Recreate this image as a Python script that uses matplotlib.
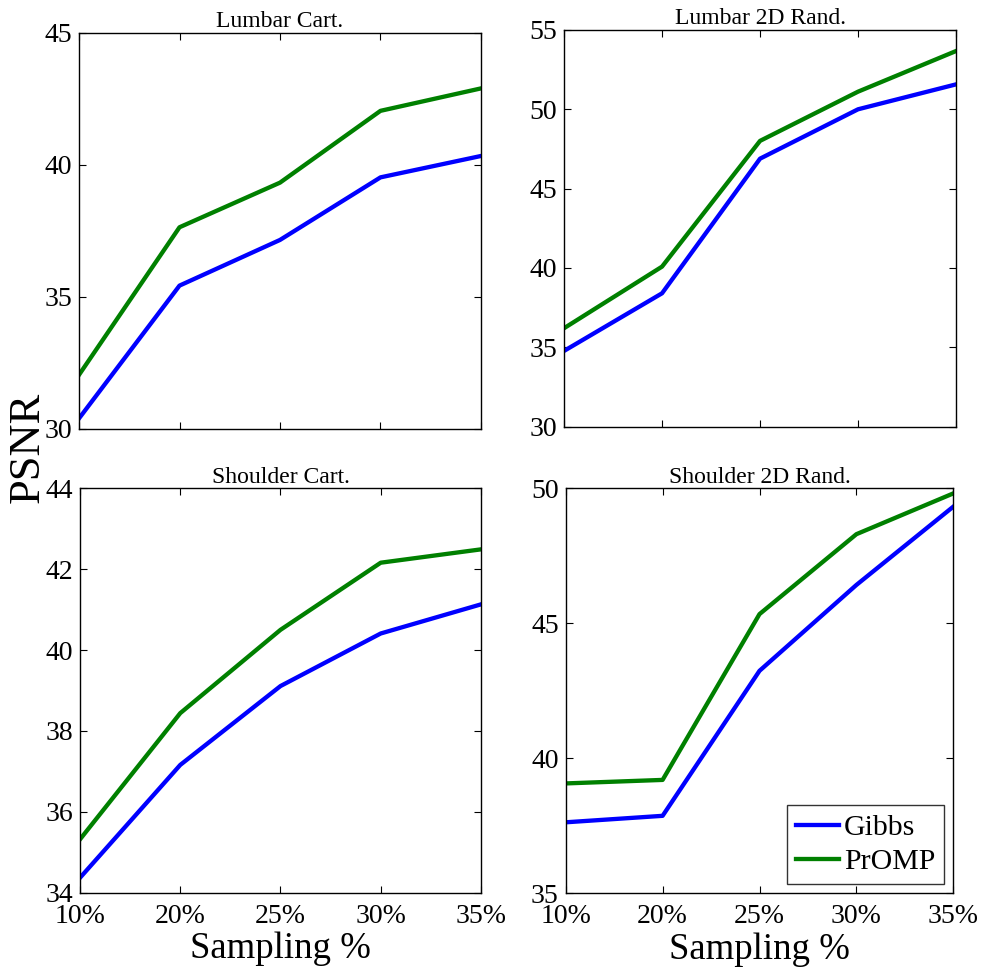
import matplotlib
matplotlib.use("Agg")
import matplotlib.pyplot as plt

plt.rcParams['font.family'] = ['Liberation Serif', 'DejaVu Serif']

x_labels = ['10%', '20%', '25%', '30%', '35%']
titles = ['Lumbar Cart.', 'Lumbar 2D Rand.', 'Shoulder Cart.', 'Shoulder 2D Rand.']

lumbar_cart_gibbs = [30.4, 35.43, 37.16, 39.53, 40.34]
lumbar_cart_promp = [32.05, 37.64, 39.33, 42.05, 42.9]
lumbar_rand_gibbs = [34.77, 38.4, 46.88, 49.99, 51.56]
lumbar_rand_promp = [36.2, 40.08, 48.0, 51.1, 53.66]
shoulder_cart_gibbs = [34.37, 37.16, 39.11, 40.41, 41.13]
shoulder_cart_promp = [35.32, 38.44, 40.5, 42.16, 42.49]
shoulder_rand_gibbs = [37.63, 37.87, 43.24, 46.42, 49.32]
shoulder_rand_promp = [39.07, 39.2, 45.34, 48.3, 49.81]

gibbs = [lumbar_cart_gibbs, lumbar_rand_gibbs, shoulder_cart_gibbs, shoulder_rand_gibbs]
promp = [lumbar_cart_promp, lumbar_rand_promp, shoulder_cart_promp, shoulder_rand_promp]
ylims = [(30, 45), (30, 55), (34, 44), (35, 50)]
yticks = [[30, 35, 40, 45], [30, 35, 40, 45, 50, 55], [34, 36, 38, 40, 42, 44], [35, 40, 45, 50]]

positions = [
    [0.0803, 0.5573, 0.4085, 0.4087],
    [0.5732, 0.5597, 0.3984, 0.4096],
    [0.0813, 0.0787, 0.4075, 0.4174],
    [0.5749, 0.0781, 0.3939, 0.4180],
]

fig = plt.figure(figsize=(9.84, 9.69), dpi=100)
xs = list(range(len(x_labels)))
for i in range(4):
    ax = fig.add_axes(positions[i])
    ax.plot(xs, gibbs[i], color='#0000ff', lw=3.1, label='Gibbs')
    ax.plot(xs, promp[i], color='#008000', lw=3.1, label='PrOMP')
    ax.set_xlim(0, len(x_labels) - 1)
    ax.set_ylim(*ylims[i])
    ax.set_yticks(yticks[i])
    ax.set_xticks(xs)
    if i >= 2:
        ax.set_xticklabels(x_labels)
        ax.set_xlabel('Sampling %', fontsize=26.5, labelpad=2)
    else:
        ax.set_xticklabels([])
    ax.tick_params(direction='in', length=5, width=0.8, top=True, right=True,
                   labelsize=20, pad=5)
    ax.tick_params(axis='x', pad=8)
    for s in ax.spines.values():
        s.set_linewidth(1.0)
    ax.set_title(titles[i], fontsize=17, pad=4)
    if i == 3:
        leg = ax.legend(loc='lower right', fontsize=21.5, frameon=True, fancybox=False,
                        handlelength=1.45, handletextpad=0.17, borderpad=0.3,
                        labelspacing=0.25, borderaxespad=0.3)
        leg.get_frame().set_edgecolor('black')
        leg.get_frame().set_linewidth(1.0)

fig.text(0.028, 0.538, 'PSNR', rotation=90, fontsize=32, ha='center', va='center')

fig.savefig('out.png', dpi=100)
